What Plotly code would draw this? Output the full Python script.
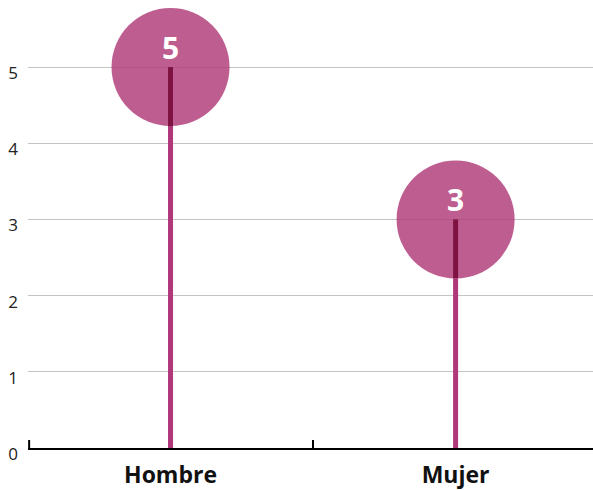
import plotly.graph_objects as go

categories = ["Hombre", "Mujer"]
values = [5, 3]
y_ticks = [0, 1, 2, 3, 4, 5]

PX_PER_UNIT = 448 / 5.88
RADIUS = 59
r_units = RADIUS / PX_PER_UNIT

fig = go.Figure()

# stems (light part)
for c, v in zip(categories, values):
    fig.add_trace(go.Scatter(x=[c, c], y=[0, v - r_units], mode="lines",
                             line=dict(color="#B0377A", width=5), hoverinfo="skip"))
# circles
fig.add_trace(go.Scatter(x=categories, y=values, mode="markers",
                         marker=dict(size=2 * RADIUS, color="#B03A78", opacity=0.82,
                                     line=dict(width=0)), hoverinfo="skip"))
# stems (dark part inside circle)
for c, v in zip(categories, values):
    fig.add_trace(go.Scatter(x=[c, c], y=[v - r_units, v], mode="lines",
                             line=dict(color="#7E1342", width=5), hoverinfo="skip"))

for c, v in zip(categories, values):
    fig.add_annotation(x=c, y=v, text=f"<b>{v}</b>", showarrow=False, yshift=20,
                       font=dict(family="Open Sans", size=30, color="white"))

# left boundary tick
fig.add_shape(type="line", xref="x domain", yref="paper", x0=0.002, x1=0.002,
              y0=0, y1=8 / 448, line=dict(color="black", width=2))

fig.update_layout(
    width=593, height=490, showlegend=False,
    margin=dict(l=28, r=0, t=0, b=42),
    paper_bgcolor="white", plot_bgcolor="white",
    font=dict(family="Open Sans", color="#222"),
)
fig.update_xaxes(type="category", range=[-0.5, 1.482], showgrid=False, automargin=False,
                 showline=True, linecolor="black", linewidth=2,
                 ticks="inside", tickson="boundaries", ticklen=8, tickcolor="black", tickwidth=2,
                 tickfont=dict(size=23, color="#111", family="Open Sans", weight="bold"),
                 ticklabelstandoff=5)
fig.update_yaxes(range=[0, 5.88], tickvals=y_ticks, showgrid=True, gridcolor="#C4C4C4",
                 gridwidth=1, zeroline=False, showline=False, automargin=False,
                 tickfont=dict(size=17, color="#222"), ticklabelshift=6, ticklabelstandoff=9)

fig.write_html("out.html")
